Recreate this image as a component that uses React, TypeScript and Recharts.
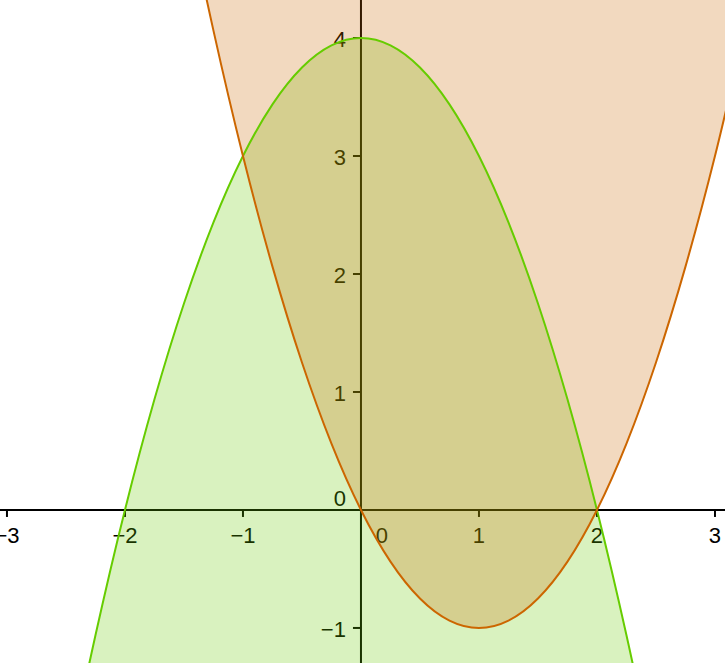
import React from 'react';
import { ComposedChart, Area, Line, XAxis, YAxis, ReferenceLine, ReferenceDot } from 'recharts';

// sample points
const xs = [-3.25, -3, -2.75, -2.5, -2.25, -2, -1.75, -1.5, -1.25, -1, -0.75, -0.5, -0.25, 0, 0.25, 0.5, 0.75, 1, 1.25, 1.5, 1.75, 2, 2.25, 2.5, 2.75, 3, 3.25];
const greenY = [-6.5625, -5, -3.5625, -2.25, -1.0625, 0, 0.9375, 1.75, 2.4375, 3, 3.4375, 3.75, 3.9375, 4, 3.9375, 3.75, 3.4375, 3, 2.4375, 1.75, 0.9375, 0, -1.0625, -2.25, -3.5625, -5, -6.5625];
const orangeY = [17.0625, 15, 13.0625, 11.25, 9.5625, 8, 6.5625, 5.25, 4.0625, 3, 2.0625, 1.25, 0.5625, 0, -0.4375, -0.75, -0.9375, -1, -0.9375, -0.75, -0.4375, 0, 0.5625, 1.25, 2.0625, 3, 4.0625];

const xTicks = [-3, -2, -1, 1, 2, 3];
const xTickLabels = ['\u22123', '\u22122', '\u22121', '1', '2', '3'];
const yTicks = [-1, 1, 2, 3, 4];
const yTickLabels = ['\u22121', '1', '2', '3', '4'];

const xDomain = [-3.059, 3.085];
const yDomain = [-1.297, 4.322];

const GREEN = 'rgb(102,204,0)';
const ORANGE = 'rgb(204,102,0)';
const FONT = '"Liberation Sans", Arial, sans-serif';
const FS = 22;

const data = xs.map((x, i) => ({ x, green: greenY[i], orange: orangeY[i] }));

const XTick = (label: string) => (props: any) => (
  <g>
    <line x1={props.cx} y1={props.cy} x2={props.cx} y2={props.cy + 7} stroke="#000" strokeWidth={2} />
    <text x={props.cx} y={props.cy + 33} textAnchor="middle" fontSize={FS} fontFamily={FONT} fill="#000">
      {label}
    </text>
  </g>
);

const YTick = (label: string) => (props: any) => (
  <g>
    <line x1={props.cx - 8} y1={props.cy} x2={props.cx} y2={props.cy} stroke="#000" strokeWidth={2} />
    <text x={props.cx - 15} y={props.cy + 9} textAnchor="end" fontSize={FS} fontFamily={FONT} fill="#000">
      {label}
    </text>
  </g>
);

const OriginLabels = (props: any) => (
  <g>
    <text x={props.cx - 15} y={props.cy - 4} textAnchor="end" fontSize={FS} fontFamily={FONT} fill="#000">0</text>
    <text x={props.cx + 21} y={props.cy + 33} textAnchor="middle" fontSize={FS} fontFamily={FONT} fill="#000">0</text>
  </g>
);

export default function App() {
  return (
    <div style={{ width: 725, height: 663, background: '#fff' }}>
      <style>{'body{margin:0}'}</style>
      <ComposedChart width={725} height={663} data={data} margin={{ top: 0, right: 0, bottom: 0, left: 0 }}>
        <XAxis type="number" dataKey="x" domain={xDomain} allowDataOverflow hide />
        <YAxis type="number" domain={yDomain} allowDataOverflow hide />

        {/* axes sit underneath the translucent fills */}
        <ReferenceLine x={0} stroke="#000" strokeWidth={2} zIndex={50} />
        <ReferenceLine y={0} stroke="#000" strokeWidth={2} zIndex={50} />
        {xTicks.map((t, i) => (
          <ReferenceDot key={'x' + t} x={t} y={0} r={0} zIndex={50} shape={XTick(xTickLabels[i])} />
        ))}
        {yTicks.map((t, i) => (
          <ReferenceDot key={'y' + t} x={0} y={t} r={0} zIndex={50} shape={YTick(yTickLabels[i])} />
        ))}
        <ReferenceDot x={0} y={0} r={0} zIndex={50} shape={OriginLabels} />

        <Area
          type="monotone"
          dataKey={(d: any) => [-7, d.green]}
          stroke="none"
          fill={GREEN}
          fillOpacity={0.25}
          zIndex={100}
          isAnimationActive={false}
        />
        <Area
          type="monotone"
          dataKey={(d: any) => [d.orange, 18]}
          stroke="none"
          fill={ORANGE}
          fillOpacity={0.25}
          zIndex={101}
          isAnimationActive={false}
        />
        <Line type="monotone" dataKey="green" stroke={GREEN} strokeWidth={2} dot={false} zIndex={400} isAnimationActive={false} />
        <Line type="monotone" dataKey="orange" stroke={ORANGE} strokeWidth={2} dot={false} zIndex={401} isAnimationActive={false} />
      </ComposedChart>
    </div>
  );
}
